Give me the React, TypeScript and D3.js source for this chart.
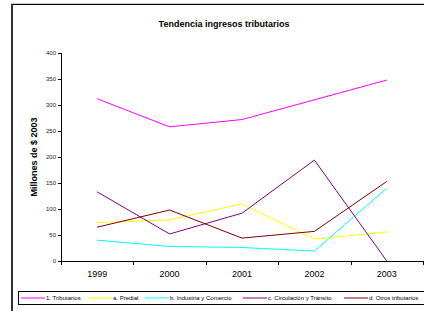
import React from 'react';
import * as d3 from 'd3';

const years = ['1999', '2000', '2001', '2002', '2003'];
const tributarios = [312, 258, 272, 310, 348];
const predial = [74, 79, 110, 42, 56];
const industria = [40, 28, 26, 19, 140];
const circulacion = [133, 52, 92, 194, 0];
const otros = [65, 98, 44, 57, 153];
const yTicks = [0, 50, 100, 150, 200, 250, 300, 350, 400];

const seriesNames = ['1. Tributarios', 'a. Predial', 'b. Industria y Comercio', 'c. Circulación y Tránsito', 'd. Otros tributarios'];
const seriesColors = ['#ff00ff', '#ffff00', '#00ffff', '#800080', '#800000'];

export default function App() {
  const width = 424;
  const height = 311;
  const series = [tributarios, predial, industria, circulacion, otros];

  // plot area
  const left = 61, right = 423, top = 53, bottom = 261;

  const x = d3.scaleBand().domain(years).range([left, right]);
  const y = d3.scaleLinear().domain([0, 400]).range([bottom, top]);

  const line = d3.line<number>()
    .x((d, i) => (x(years[i]) as number) + x.bandwidth() / 2)
    .y(d => y(d));

  // legend layout
  const legendX = [21, 88, 145, 243, 344];

  return (
    <svg width={width} height={height} style={{ position: 'absolute', left: 0, top: 0 }}
      fontFamily="Liberation Sans, Arial, sans-serif">
      <rect x={0} y={0} width={width} height={height} fill="white" />
      {/* outer frame */}
      <line x1={11} y1={3.5} x2={width} y2={3.5} stroke="#ccc" strokeWidth={1} />
      <line x1={12} y1={4.5} x2={width} y2={4.5} stroke="#000" strokeWidth={1} />
      <line x1={12} y1={4} x2={12} y2={height} stroke="#333" strokeWidth={2} />

      <text x={224} y={27} textAnchor="middle" fontSize={9} fontWeight="bold">Tendencia ingresos tributarios</text>

      <text transform={`translate(37,157) rotate(-90)`} textAnchor="middle" fontSize={9} fontWeight="bold">Millones de $ 2003</text>

      {/* y axis */}
      <line x1={left + 0.5} y1={top} x2={left + 0.5} y2={bottom} stroke="#000" />
      {yTicks.map(t => (
        <g key={t}>
          <line x1={left - 3} x2={left} y1={Math.round(y(t)) + 0.5} y2={Math.round(y(t)) + 0.5} stroke="#000" />
          <text x={left - 5} y={y(t) + 2} textAnchor="end" fontSize={6} fill="#222">{t}</text>
        </g>
      ))}

      {/* x axis */}
      <line x1={left} y1={bottom + 0.5} x2={right} y2={bottom + 0.5} stroke="#000" />
      {years.concat(['end']).map((yr, i) => {
        const xp = Math.round(left + i * x.step()) + 0.5;
        return <line key={yr} x1={xp} x2={xp} y1={bottom} y2={bottom + 4} stroke="#000" />;
      })}
      {years.map(yr => (
        <text key={yr} x={(x(yr) as number) + x.bandwidth() / 2} y={277} textAnchor="middle" fontSize={9}>{yr}</text>
      ))}

      {/* lines */}
      {series.map((s, i) => (
        <path key={i} d={line(s) || ''} fill="none" stroke={seriesColors[i]} strokeWidth={1} />
      ))}

      {/* legend */}
      <rect x={18.5} y={291.5} width={width} height={13} fill="white" stroke="#000" />
      {seriesNames.map((n, i) => (
        <g key={n}>
          <line x1={legendX[i]} x2={legendX[i] + 24} y1={298} y2={298} stroke={seriesColors[i]} strokeWidth={1} />
          <text x={legendX[i] + 25} y={300} fontSize={6}>{n}</text>
        </g>
      ))}
    </svg>
  );
}
